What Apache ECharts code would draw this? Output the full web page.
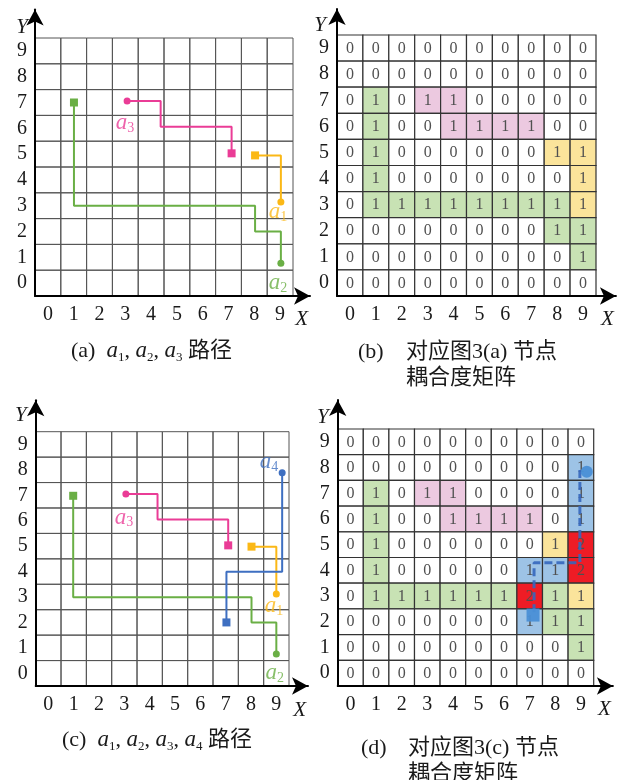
<!DOCTYPE html>
<html>
<head>
<meta charset="utf-8">
<script src="https://cdn.jsdelivr.net/npm/echarts@6/dist/echarts.min.js"></script>
<style>html,body{margin:0;padding:0;background:#fff}#c{width:622px;height:780px}</style>
</head>
<body>
<div id="c"></div>
<script>
// ---------------- DATA ----------------
const tickLabels = ['0','1','2','3','4','5','6','7','8','9'];

// panel (a) paths  [x, y] in cell units (cell centre = integer)
const pathA_a1 = [[8.03,4.95],[9.03,4.95],[9.03,3.14]];
const pathA_a2 = [[1.01,7.0],[1.01,3.0],[8.03,3.0],[8.03,2.0],[9.03,2.0],[9.03,0.77]];
const pathA_a3 = [[3.07,7.06],[4.37,7.06],[4.37,6.06],[7.12,6.06],[7.12,5.03]];
const labelsA = [['a3',2.99,6.21],['a1',8.92,2.76],['a2',8.92,0.0]];

// panel (c) paths
const pathC_a1 = [[8.02,4.98],[9.0,4.98],[9.0,3.12]];
const pathC_a2 = [[0.98,6.98],[0.98,2.99],[8.02,2.99],[8.02,2.0],[9.0,2.0],[9.0,0.76]];
const pathC_a3 = [[3.06,7.05],[4.31,7.05],[4.31,6.05],[7.1,6.05],[7.1,5.03]];
const pathC_a4 = [[9.23,7.89],[9.23,3.99],[7.03,3.99],[7.03,2.0]];
const labelsC = [['a4',8.71,8.31],['a3',2.99,6.12],['a1',8.91,2.65],['a2',8.94,0.01]];

// matrices, rows listed from y=9 (top) to y=0 (bottom)
const valuesB = [
  [0,0,0,0,0,0,0,0,0,0],
  [0,0,0,0,0,0,0,0,0,0],
  [0,1,0,1,1,0,0,0,0,0],
  [0,1,0,0,1,1,1,1,0,0],
  [0,1,0,0,0,0,0,0,1,1],
  [0,1,0,0,0,0,0,0,0,1],
  [0,1,1,1,1,1,1,1,1,1],
  [0,0,0,0,0,0,0,0,1,1],
  [0,0,0,0,0,0,0,0,0,1],
  [0,0,0,0,0,0,0,0,0,0]
];
const coloursB = [
  '..........',
  '..........',
  '.g.pp.....',
  '.g..pppp..',
  '.g......yy',
  '.g.......y',
  '.ggggggggy',
  '........gg',
  '.........g',
  '..........'
];
const valuesD = [
  [0,0,0,0,0,0,0,0,0,0],
  [0,0,0,0,0,0,0,0,0,1],
  [0,1,0,1,1,0,0,0,0,1],
  [0,1,0,0,1,1,1,1,0,1],
  [0,1,0,0,0,0,0,0,1,2],
  [0,1,0,0,0,0,0,1,1,2],
  [0,1,1,1,1,1,1,2,1,1],
  [0,0,0,0,0,0,0,1,1,1],
  [0,0,0,0,0,0,0,0,0,1],
  [0,0,0,0,0,0,0,0,0,0]
];
const coloursD = [
  '..........',
  '.........b',
  '.g.pp....b',
  '.g..pppp.b',
  '.g......yr',
  '.g.....bbr',
  '.ggggggrgy',
  '.......bgg',
  '.........g',
  '..........'
];
// blue overlay path in (d)
const overlayD = [[8.96,7.9],[8.96,4.3],[7.17,4.3],[7.17,2.26]];
const overlayD_start = [9.23,7.84];
const overlayD_end = [7.13,2.26];

// ---------------- STYLE ----------------
const SERIF = '"Liberation Serif","DejaVu Serif",serif';
const CJK = '"Liberation Serif","Noto Sans CJK SC",serif';
const COL = {g:'#c8e2b4', p:'#ecc9e0', y:'#fbe49b', b:'#9dc3e6', r:'#ee1c25', '.':'#ffffff'};
const C_A1 = '#fbb816', C_A2 = '#6aaf45', C_A3 = '#ea3c96', C_A4 = '#3e6fc1';

const panels = [
  {cl:35,   ct:38,    cw:258,   ch:258,   xMax:10.16, yMax:10.6,  yGap:7,  yPad:7,  xPad:16},
  {cl:337,  ct:35,    cw:259,   ch:261,   xMax:10.27, yMax:10.5,  yGap:6,  yPad:11, xPad:16},
  {cl:35.7, ct:431.7, cw:253.3, ch:254.3, xMax:10.25, yMax:10.74, yGap:5,  yPad:9,  xPad:17},
  {cl:337.7,ct:429,   cw:256,   ch:257,   xMax:10.25, yMax:10.63, yGap:7,  yPad:9,  xPad:16}
];

const grids = [], xAxes = [], yAxes = [], series = [];
panels.forEach((p, i) => {
  const ux = p.cw / 10, uy = p.ch / 10;
  grids.push({
    left: p.cl, top: p.ct - (p.yMax - 9.5) * uy,
    width: (p.xMax + 0.5) * ux, height: (p.yMax + 0.5) * uy,
    containLabel: false
  });
  const fmt = v => {
    const r = Math.round(v);
    return (Math.abs(v - r) < 1e-6 && r >= 0 && r <= 9) ? tickLabels[r] : '';
  };
  xAxes.push({
    gridIndex: i, type: 'value', min: -0.5, max: p.xMax, interval: 0.5, z: 5,
    axisLine: {onZero: false, lineStyle: {color: '#000', width: 2}, symbol: ['none','arrow'], symbolSize: [13,16]},
    axisTick: {show: false}, splitLine: {show: false},
    axisLabel: {formatter: fmt, fontFamily: SERIF, fontSize: 20, color: '#1a1a1a', margin: 9, showMinLabel: true, showMaxLabel: true},
    name: 'X', nameLocation: 'end', nameGap: -2,
    nameTextStyle: {fontFamily: SERIF, fontStyle: 'italic', fontSize: 21, color: '#1a1a1a', align: 'right', verticalAlign: 'top', padding: [p.xPad - 3, 0, 0, 0]}
  });
  yAxes.push({
    gridIndex: i, type: 'value', min: -0.5, max: p.yMax, interval: 0.5, z: 5,
    axisLine: {onZero: false, lineStyle: {color: '#000', width: 2}, symbol: ['none','arrow'], symbolSize: [13,16]},
    axisTick: {show: false}, splitLine: {show: false},
    axisLabel: {formatter: fmt, fontFamily: SERIF, fontSize: 20, color: '#1a1a1a', margin: 8, showMinLabel: true, showMaxLabel: true},
    name: 'Y', nameLocation: 'end', nameGap: -p.yGap,
    nameTextStyle: {fontFamily: SERIF, fontStyle: 'italic', fontSize: 21, color: '#1a1a1a', align: 'right', verticalAlign: 'top', padding: [0, p.yPad, 0, 0]}
  });
});

// cell series
function cellSeries(gi, values, colours, stroke, lw) {
  const pts = [], vals = [], cols = [];
  for (let r = 0; r < 10; r++) {
    for (let x = 0; x < 10; x++) {
      pts.push([x, 9 - r]);
      vals.push(values ? values[r][x] : null);
      cols.push(colours ? COL[colours[r][x]] : 'rgba(0,0,0,0)');
    }
  }
  return {
    type: 'custom', xAxisIndex: gi, yAxisIndex: gi, silent: true, z: 1,
    data: pts,
    renderItem: (params, api) => {
      const idx = params.dataIndex;
      const x = api.value(0), y = api.value(1);
      const tl = api.coord([x - 0.5, y + 0.5]);
      const s = api.size([1, 1]);
      const ch = [{type: 'rect', shape: {x: tl[0], y: tl[1], width: s[0], height: s[1]},
        style: {fill: cols[idx], stroke: stroke, lineWidth: lw}}];
      if (vals[idx] !== null) {
        ch.push({type: 'text', style: {x: tl[0] + s[0] / 2, y: tl[1] + s[1] / 2 + 0.5, text: String(vals[idx]),
          align: 'center', verticalAlign: 'middle', fontFamily: SERIF, fontSize: 16, fill: '#505050'}});
      }
      return {type: 'group', children: ch};
    }
  };
}
series.push(cellSeries(0, null, null, '#555', 1));
series.push(cellSeries(1, valuesB, coloursB, '#333', 1.2));
series.push(cellSeries(2, null, null, '#555', 1));
series.push(cellSeries(3, valuesD, coloursD, '#333', 1.2));

function pathSeries(gi, pts, colour, startSym, endSym) {
  const sz = s => s === 'rect' ? 8 : 7;
  return {
    type: 'line', xAxisIndex: gi, yAxisIndex: gi, silent: true, z: 3, animation: false,
    showAllSymbol: true,
    lineStyle: {color: colour, width: 2},
    itemStyle: {color: colour},
    data: pts.map((pt, k) => ({
      value: pt,
      symbol: k === 0 ? startSym : (k === pts.length - 1 ? endSym : 'none'),
      symbolSize: k === 0 ? sz(startSym) : sz(endSym)
    }))
  };
}
series.push(pathSeries(0, pathA_a1, C_A1, 'rect', 'circle'));
series.push(pathSeries(0, pathA_a2, C_A2, 'rect', 'circle'));
series.push(pathSeries(0, pathA_a3, C_A3, 'circle', 'rect'));
series.push(pathSeries(2, pathC_a1, C_A1, 'rect', 'circle'));
series.push(pathSeries(2, pathC_a2, C_A2, 'rect', 'circle'));
series.push(pathSeries(2, pathC_a3, C_A3, 'circle', 'rect'));
series.push(pathSeries(2, pathC_a4, C_A4, 'circle', 'rect'));

const labelColour = {a1: C_A1, a2: C_A2, a3: C_A3, a4: C_A4};
function labelSeries(gi, labels) {
  return {
    type: 'scatter', xAxisIndex: gi, yAxisIndex: gi, silent: true, z: 4, symbolSize: 0,
    data: labels.map(l => ({
      value: [l[1], l[2]],
      label: {
        show: true, position: [0, 0], align: 'center', verticalAlign: 'middle',
        formatter: '{i|a}{s|' + l[0].slice(1) + '}',
        rich: {
          i: {fontFamily: SERIF, fontStyle: 'italic', fontSize: 23, color: labelColour[l[0]], lineHeight: 24},
          s: {fontFamily: SERIF, fontSize: 14, color: labelColour[l[0]], lineHeight: 14, verticalAlign: 'bottom'}
        }
      }
    }))
  };
}
series.push(labelSeries(0, labelsA));
series.push(labelSeries(2, labelsC));

// overlay in (d)
series.push({
  type: 'line', xAxisIndex: 3, yAxisIndex: 3, silent: true, z: 3, symbol: 'none',
  lineStyle: {color: '#3567bd', width: 3, type: [8, 4], opacity: 0.9},
  data: overlayD
});
series.push({
  type: 'scatter', xAxisIndex: 3, yAxisIndex: 3, silent: true, z: 4,
  itemStyle: {color: '#4a8fd6', opacity: 0.95},
  data: [
    {value: overlayD_start, symbol: 'circle', symbolSize: 12},
    {value: overlayD_end, symbol: 'rect', symbolSize: 13}
  ]
});

// captions
const capRich = {
  n: {fontFamily: SERIF, fontSize: 22, color: '#1a1a1a', lineHeight: 26},
  i: {fontFamily: SERIF, fontStyle: 'italic', fontSize: 23, color: '#1a1a1a', lineHeight: 26},
  s: {fontFamily: SERIF, fontSize: 13, color: '#1a1a1a', lineHeight: 13, verticalAlign: 'bottom'},
  c: {fontFamily: CJK, fontSize: 22, color: '#1a1a1a', lineHeight: 26}
};
const sub = (k) => '{i|a}{s|' + k + '}';
const titles = [
  {left: 71, top: 338, text: '{n|(a)}{n|  }' + sub(1) + '{n|, }' + sub(2) + '{n|, }' + sub(3) + '{c| 路径}'},
  {left: 358, top: 339, text: '{n|(b)}'},
  {left: 406, top: 339, text: '{c|对应图3(a) 节点}\n{c|耦合度矩阵}'},
  {left: 62, top: 727, text: '{n|(c)}{n|  }' + sub(1) + '{n|, }' + sub(2) + '{n|, }' + sub(3) + '{n|, }' + sub(4) + '{c| 路径}'},
  {left: 361, top: 735, text: '{n|(d)}'},
  {left: 408, top: 735, text: '{c|对应图3(c) 节点}\n{c|耦合度矩阵}'}
].map(t => ({left: t.left, top: t.top, padding: 0, text: t.text,
  textStyle: {fontFamily: SERIF, fontSize: 22, fontWeight: 'normal', color: '#1a1a1a', rich: capRich, lineHeight: 23}}));

const chart = echarts.init(document.getElementById('c'), null, {renderer: 'canvas'});
chart.setOption({
  backgroundColor: '#ffffff',
  animation: false,
  title: titles,
  grid: grids,
  xAxis: xAxes,
  yAxis: yAxes,
  series: series
});
</script>
</body>
</html>
